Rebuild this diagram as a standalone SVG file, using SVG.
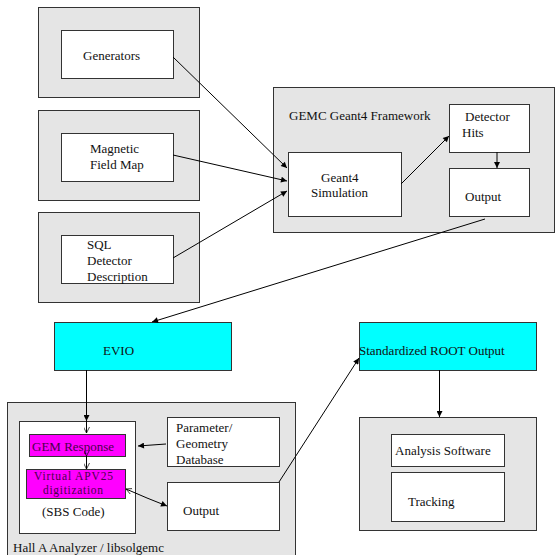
<svg xmlns="http://www.w3.org/2000/svg" width="555" height="555" viewBox="0 0 555 555">
<defs>
<marker id="ah" viewBox="0 0 10 10" refX="10" refY="5" markerWidth="8" markerHeight="6" markerUnits="userSpaceOnUse" orient="auto">
<path d="M0,0 L10,5 L0,10 z" fill="#000"/>
</marker>
<marker id="oh" viewBox="0 0 10 10" refX="10" refY="5" markerWidth="9" markerHeight="6" markerUnits="userSpaceOnUse" orient="auto">
<path d="M0,0 L10,5 L0,10" fill="none" stroke="#000" stroke-width="1.2"/>
</marker>
</defs>
<style>
.outer{fill:#e5e5e5;stroke:#333;stroke-width:1}
.box{fill:#fff;stroke:#333;stroke-width:1}
.cyan{fill:#00ffff;stroke:#333;stroke-width:1}
.mag{fill:#ff00ff;stroke:#333;stroke-width:1}
text{font-family:"Liberation Serif","Times New Roman",serif;font-size:13px;fill:#111}
.mt{fill:#4a004a}
.sm{font-size:11.5px}
.c{fill:none;stroke:#000;stroke-width:1}
</style>
<rect width="555" height="555" fill="#fff"/>

<g id="generators">
<rect class="outer" x="38.5" y="7.5" width="161" height="90"/>
<rect class="box" x="61.5" y="30.5" width="112" height="48"/>
<text x="83" y="59.5">Generators</text>
</g>

<g id="magnetic">
<rect class="outer" x="38.5" y="110.5" width="161" height="90"/>
<rect class="box" x="61.5" y="133.5" width="112" height="48"/>
<text x="90" y="152.5">Magnetic</text>
<text x="90" y="169">Field Map</text>
</g>

<g id="sql">
<rect class="outer" x="38.5" y="212.5" width="161" height="90"/>
<rect class="box" x="61.5" y="235.5" width="112" height="48"/>
<text x="87" y="249">SQL</text>
<text x="87" y="265">Detector</text>
<text x="87" y="281">Description</text>
</g>

<g id="gemc">
<rect class="outer" x="273.5" y="87.5" width="281" height="145"/>
<text x="289" y="120">GEMC Geant4 Framework</text>
</g>
<g id="geant4">
<rect class="box" x="288.5" y="152.5" width="113" height="64"/>
<text x="321" y="181.5">Geant4</text>
<text x="311" y="197">Simulation</text>
</g>
<g id="hits">
<rect class="box" x="449.5" y="104.5" width="80" height="48"/>
<text x="465" y="120.5">Detector</text>
<text x="462" y="136.5">Hits</text>
</g>
<g id="gemcoutput">
<rect class="box" x="449.5" y="168.5" width="80" height="48"/>
<text x="465" y="201">Output</text>
</g>

<g id="evio">
<rect class="cyan" x="54.5" y="322.5" width="177" height="48"/>
<text x="103" y="354.5">EVIO</text>
</g>

<g id="root">
<rect class="cyan" x="359.5" y="322.5" width="177" height="48"/>
<text x="359" y="354.5">Standardized ROOT Output</text>
</g>

<g id="halla">
<rect class="outer" x="7.5" y="402.5" width="288" height="160"/>
<text x="13" y="551.5">Hall A Analyzer / libsolgemc</text>
</g>
<g id="sbs">
<rect class="box" x="19.5" y="421.5" width="116" height="112"/>
<text x="42" y="515.5">(SBS Code)</text>
</g>
<g id="gemresponse">
<rect class="mag" x="29.5" y="434.5" width="96" height="22"/>
<text class="mt" x="32" y="450.5">GEM Response</text>
</g>
<g id="apv">
<rect class="mag" x="26.5" y="469.5" width="99" height="29"/>
<text class="mt sm" x="34" y="480" textLength="79">Virtual APV25</text>
<text class="mt sm" x="43" y="493.5" textLength="60">digitization</text>
</g>
<g id="param">
<rect class="box" x="167.5" y="417.5" width="112" height="49"/>
<text x="176" y="431.5">Parameter/</text>
<text x="176" y="447.5">Geometry</text>
<text x="176" y="463.5">Database</text>
</g>
<g id="hallaoutput">
<rect class="box" x="167.5" y="482.5" width="112" height="48"/>
<text x="183" y="514.5">Output</text>
</g>

<g id="analysis">
<rect class="outer" x="359.5" y="417.5" width="177" height="113"/>
<rect class="box" x="391.5" y="434.5" width="113" height="32"/>
<text x="395" y="454.5">Analysis Software</text>
<rect class="box" x="391.5" y="472.5" width="113" height="49"/>
<text x="408" y="505.5">Tracking</text>
</g>

<g id="connectors">
<line class="c" x1="173" y1="57" x2="287" y2="168" marker-end="url(#ah)"/>
<line class="c" x1="173" y1="155" x2="287" y2="181" marker-end="url(#ah)"/>
<line class="c" x1="173" y1="258" x2="287" y2="191" marker-end="url(#ah)"/>
<line class="c" x1="401" y1="184" x2="449" y2="136" marker-end="url(#ah)"/>
<line class="c" x1="497" y1="152" x2="497" y2="168" marker-end="url(#ah)"/>
<line class="c" x1="485" y1="219" x2="152" y2="322" marker-end="url(#ah)"/>
<line class="c" x1="86.5" y1="370" x2="86.5" y2="421" marker-end="url(#ah)"/>
<line class="c" x1="86.5" y1="421" x2="86.5" y2="433" marker-end="url(#oh)"/>
<line class="c" x1="86.5" y1="456" x2="86.5" y2="469" marker-end="url(#oh)" marker-start="url(#oh)"/>
<line class="c" x1="166" y1="444" x2="138" y2="446" marker-end="url(#ah)"/>
<line class="c" x1="147" y1="498" x2="126" y2="489" marker-end="url(#oh)"/>
<line class="c" x1="147" y1="498" x2="167" y2="506" marker-end="url(#ah)"/>
<line class="c" x1="279" y1="482" x2="359" y2="358" marker-end="url(#ah)"/>
<line class="c" x1="439.5" y1="370" x2="439.5" y2="417" marker-end="url(#ah)"/>
</g>
</svg>
